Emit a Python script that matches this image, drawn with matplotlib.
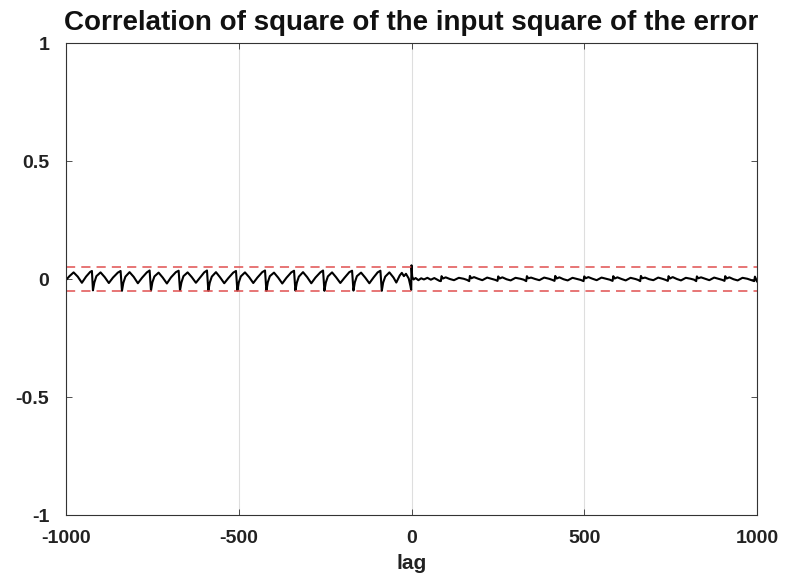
import matplotlib
matplotlib.use('Agg')
import matplotlib.pyplot as plt

# correlation, lag < 0 (large periodic pattern)
left_lags = [-1000, -990, -978, -966, -954, -942, -930, -925, -922,
             -918, -912, -900, -888, -876, -864, -850, -842, -838,
             -834, -828, -816, -804, -792, -780, -766, -758, -754,
             -750, -744, -732, -720, -708, -696, -682, -674, -670,
             -666, -660, -648, -636, -624, -612, -600, -592, -588,
             -584, -578, -566, -554, -542, -530, -516, -508, -504,
             -500, -494, -482, -470, -458, -446, -432, -424, -420,
             -416, -410, -398, -386, -374, -362, -348, -340, -336,
             -332, -326, -314, -302, -290, -278, -264, -256, -252,
             -248, -242, -230, -218, -206, -194, -180, -172, -168,
             -164, -158, -146, -134, -122, -110, -98, -90, -86,
             -82, -76, -64, -52, -44, -34, -28, -22, -16, -8, -3, -1]
left_corr = [-0.004, 0.012, 0.028, 0.010, -0.016, 0.010, 0.030, 0.034, -0.048,
             -0.015, 0.012, 0.028, 0.008, -0.017, 0.006, 0.027, 0.034, -0.050,
             -0.016, 0.010, 0.029, 0.009, -0.018, 0.005, 0.028, 0.036, -0.049,
             -0.014, 0.011, 0.027, 0.006, -0.019, 0.007, 0.029, 0.035, -0.048,
             -0.015, 0.012, 0.028, 0.008, -0.016, 0.006, 0.028, 0.036, -0.050,
             -0.016, 0.010, 0.029, 0.007, -0.018, 0.004, 0.027, 0.034, -0.049,
             -0.015, 0.011, 0.028, 0.008, -0.017, 0.006, 0.029, 0.036, -0.050,
             -0.014, 0.012, 0.027, 0.006, -0.019, 0.005, 0.028, 0.035, -0.049,
             -0.016, 0.010, 0.029, 0.008, -0.018, 0.006, 0.028, 0.036, -0.050,
             -0.015, 0.011, 0.028, 0.007, -0.017, 0.005, 0.029, 0.035, -0.049,
             -0.014, 0.012, 0.027, 0.006, -0.018, 0.006, 0.028, 0.035, -0.050,
             -0.015, 0.010, 0.028, 0.006, -0.015, 0.015, 0.026, 0.012, 0.022, 0.002, -0.030, -0.046]

# lag >= 0 (small wiggles)
right_lags = [0, 2, 6, 12, 20, 28, 36, 46, 56, 66, 76, 81, 85,
              87, 91, 99, 111, 123, 137, 151, 161, 167,
              169, 173, 181, 193, 205, 219, 233, 243, 249,
              251, 255, 263, 275, 287, 301, 315, 325, 332,
              334, 338, 346, 358, 370, 384, 398, 408, 414,
              416, 420, 428, 440, 452, 466, 480, 490, 498,
              500, 504, 512, 524, 536, 550, 564, 574, 582,
              584, 588, 596, 608, 620, 634, 648, 656, 662,
              664, 668, 676, 688, 700, 714, 726, 736, 742,
              744, 748, 756, 768, 780, 794, 808, 818, 824,
              826, 830, 838, 850, 862, 876, 890, 900, 906,
              908, 912, 920, 932, 944, 958, 972, 982, 992,
              994, 998, 1000]
right_corr = [0.058, 0.010, -0.002, 0.004, -0.005, 0.003, -0.002, 0.005, -0.003, 0.004, -0.004, -0.008, -0.009,
              0.012, 0.002, 0.007, 0.000, -0.005, 0.005, 0.001, -0.004, -0.009,
              0.013, 0.003, 0.008, 0.001, -0.005, 0.006, 0.000, -0.004, -0.008,
              0.011, 0.002, 0.007, -0.001, -0.006, 0.005, 0.001, -0.003, -0.009,
              0.012, 0.003, 0.006, 0.000, -0.005, 0.006, 0.001, -0.004, -0.008,
              0.013, 0.002, 0.007, -0.001, -0.006, 0.005, 0.000, -0.004, -0.009,
              0.011, 0.003, 0.008, 0.001, -0.005, 0.006, 0.001, -0.003, -0.008,
              0.012, 0.002, 0.007, 0.000, -0.006, 0.005, 0.000, -0.004, -0.009,
              0.013, 0.003, 0.006, -0.001, -0.005, 0.006, 0.001, -0.004, -0.008,
              0.012, 0.002, 0.008, 0.000, -0.006, 0.005, 0.001, -0.003, -0.009,
              0.011, 0.003, 0.007, 0.001, -0.005, 0.006, 0.000, -0.004, -0.008,
              0.012, 0.002, 0.007, -0.001, -0.006, 0.005, 0.001, -0.004, -0.009,
              0.010, -0.004, -0.010]

conf_bound = 0.05
x_ticks = [-1000, -500, 0, 500, 1000]
y_ticks = [-1, -0.5, 0, 0.5, 1]
y_labels = ['-1', '-0.5', '0', '0.5', '1']

plt.rcParams['font.family'] = ['Liberation Sans', 'DejaVu Sans']

fig = plt.figure(figsize=(7.87, 5.86), dpi=100)
ax = fig.add_axes([66 / 787, 71 / 586, 691 / 787, 472 / 586])

ax.plot(left_lags + right_lags, left_corr + right_corr, color='black', lw=1.5)
ax.axhline(conf_bound, color='#e05050', lw=1.1, ls=(0, (6, 4)))
ax.axhline(-conf_bound, color='#e05050', lw=1.1, ls=(0, (6, 4)))

ax.set_xlim(-1000, 1000)
ax.set_ylim(-1, 1)
ax.set_xticks(x_ticks)
ax.set_xticklabels([str(t) for t in x_ticks])
ax.set_yticks(y_ticks)
ax.set_yticklabels(y_labels)
ax.xaxis.grid(True, color='#dedede', lw=0.8)
ax.set_axisbelow(True)

ax.tick_params(direction='in', length=4, width=0.6, color='#333333',
               labelsize=14, top=True, right=True)
ax.tick_params(axis='x', pad=11)
ax.tick_params(axis='y', pad=12)
for lbl in ax.get_xticklabels() + ax.get_yticklabels():
    lbl.set_fontweight('bold')
    lbl.set_color('#222222')
for s in ax.spines.values():
    s.set_color('#333333')
    s.set_linewidth(0.8)

ax.set_xlabel('lag', fontsize=15, fontweight='bold', color='#222222', labelpad=5)
ax.set_title('Correlation of square of the input square of the error',
             fontsize=20, fontweight='bold', color='#111111', pad=9)

fig.savefig('out.png', dpi=100, facecolor='white')
